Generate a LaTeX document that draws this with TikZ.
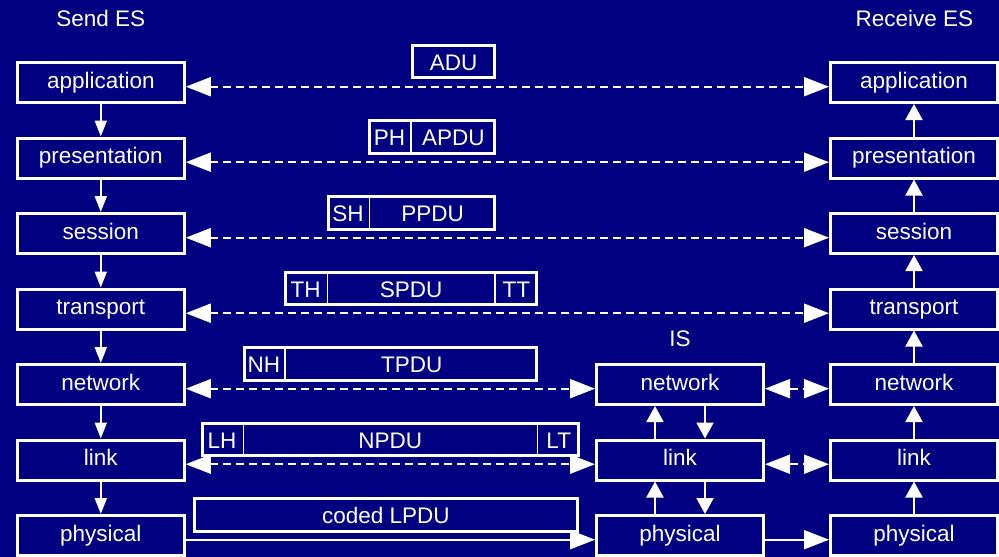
\documentclass[tikz,border=0pt]{standalone}
\usepackage{fontspec}
\setmainfont{Liberation Sans}
\usetikzlibrary{arrows.meta}
\definecolor{navybg}{RGB}{0,0,128}

\begin{document}
\begin{tikzpicture}[x=1pt,y=-1pt,
  every node/.style={text=white,font=\fontsize{22.5}{27}\selectfont},
  layer/.style={draw=white,line width=3pt,fill=navybg,minimum width=167pt,
    minimum height=40pt,inner sep=0pt,text height=16.1pt,text depth=4.7pt},
  peer/.style={white,line width=2pt,dash pattern=on 8pt off 5pt,
    {Triangle[length=25pt,width=19pt]}-{Triangle[length=25pt,width=19pt]}},
  wire/.style={white,line width=2pt,-{Triangle[length=25pt,width=19pt]}},
  sendarrow/.style={white,line width=2pt,-{Triangle[length=16pt,width=12pt]}},
  recvarrow/.style={white,line width=2pt,-{Triangle[length=16pt,width=17pt]}},
  pduframe/.style={draw=white,line width=3pt},
  divider/.style={white,line width=1.5pt},
  pdutext/.style={anchor=base,inner sep=0pt}
]
% background and page size
\fill[navybg] (0,0) rectangle (999,557);
\useasboundingbox (0,0) rectangle (999,557);

% column headings
\node[pdutext] (tSend) at (100.8,26.7) {Send ES};
\node[pdutext] (tRecv) at (914.5,26.7) {Receive ES};
\node[pdutext] (tIS)   at (680,346) {IS};

% sending end system
\node[layer] (sApp) at (100.8,82.5)  {application};
\node[layer] (sPre) at (100.8,158)   {presentation};
\node[layer] (sSes) at (100.8,233.5) {session};
\node[layer] (sTra) at (100.8,309)   {transport};
\node[layer] (sNet) at (100.8,384.5) {network};
\node[layer] (sLnk) at (100.8,460)   {link};
\node[layer] (sPhy) at (100.8,535.5) {physical};

% intermediate system
\node[layer] (iNet) at (680,384.5) {network};
\node[layer] (iLnk) at (680,460)   {link};
\node[layer] (iPhy) at (680,535.5) {physical};

% receiving end system
\node[layer] (rApp) at (914,82.5)  {application};
\node[layer] (rPre) at (914,158)   {presentation};
\node[layer] (rSes) at (914,233.5) {session};
\node[layer] (rTra) at (914,309)   {transport};
\node[layer] (rNet) at (914,384.5) {network};
\node[layer] (rLnk) at (914,460)   {link};
\node[layer] (rPhy) at (914,535.5) {physical};

% down the sending stack
\draw[sendarrow] (sApp) -- (sPre);
\draw[sendarrow] (sPre) -- (sSes);
\draw[sendarrow] (sSes) -- (sTra);
\draw[sendarrow] (sTra) -- (sNet);
\draw[sendarrow] (sNet) -- (sLnk);
\draw[sendarrow] (sLnk) -- (sPhy);

% up the receiving stack
\draw[recvarrow] (rPhy) -- (rLnk);
\draw[recvarrow] (rLnk) -- (rNet);
\draw[recvarrow] (rNet) -- (rTra);
\draw[recvarrow] (rTra) -- (rSes);
\draw[recvarrow] (rSes) -- (rPre);
\draw[recvarrow] (rPre) -- (rApp);

% relaying inside the intermediate system
\draw[recvarrow] ([xshift=-25pt]iLnk.north) -- ([xshift=-25pt]iNet.south);
\draw[recvarrow] ([xshift=25pt]iNet.south) -- ([xshift=25pt]iLnk.north);
\draw[recvarrow] ([xshift=-25pt]iPhy.north) -- ([xshift=-25pt]iLnk.south);
\draw[recvarrow] ([xshift=25pt]iLnk.south) -- ([xshift=25pt]iPhy.north);

% peer-to-peer protocols
\draw[peer] ([yshift=-4.2pt]sApp.east) -- ([yshift=-4.2pt]rApp.west);
\draw[peer] ([yshift=-4.2pt]sPre.east) -- ([yshift=-4.2pt]rPre.west);
\draw[peer] ([yshift=-4.2pt]sSes.east) -- ([yshift=-4.2pt]rSes.west);
\draw[peer] ([yshift=-4.2pt]sTra.east) -- ([yshift=-4.2pt]rTra.west);
\draw[peer] ([yshift=-4.2pt]sNet.east) -- ([yshift=-4.2pt]iNet.west);
\draw[peer] ([yshift=-4.2pt]iNet.east) -- ([yshift=-4.2pt]rNet.west);
\draw[peer] ([yshift=-4.2pt]sLnk.east) -- ([yshift=-4.2pt]iLnk.west);
\draw[peer] ([yshift=-4.2pt]iLnk.east) -- ([yshift=-4.2pt]rLnk.west);
\draw[wire] ([yshift=-4.2pt]sPhy.east) -- ([yshift=-4.2pt]iPhy.west);
\draw[wire] ([yshift=-4.2pt]iPhy.east) -- ([yshift=-4.2pt]rPhy.west);

% protocol data units
\draw[pduframe] (412.5,45.5) rectangle (494.5,77.8);
\node[pdutext] (adu) at (453.5,70.5) {ADU};

\draw[pduframe] (369.5,120.8) rectangle (494.5,153.5);
\draw[divider] (411,120.8) -- (411,153.5);
\node[pdutext] (ph)   at (389.6,145.8) {PH};
\node[pdutext] (apdu) at (453.3,145.8) {APDU};

\draw[pduframe] (328.2,196.5) rectangle (494.5,229.2);
\draw[divider] (369.3,196.5) -- (369.3,229.2);
\node[pdutext] (sh)   at (348,221.5) {SH};
\node[pdutext] (ppdu) at (432.7,221.5) {PPDU};

\draw[pduframe] (285.5,272.2) rectangle (536.2,304.2);
\draw[divider] (327.3,272.2) -- (327.3,304.2);
\draw[divider] (495,272.2) -- (495,304.2);
\node[pdutext] (th)   at (305.7,297) {TH};
\node[pdutext] (spdu) at (411.2,297) {SPDU};
\node[pdutext] (tt)   at (516.3,297) {TT};

\draw[pduframe] (244.2,347.5) rectangle (536.8,380.2);
\draw[divider] (285,347.5) -- (285,380.2);
\node[pdutext] (nh)   at (263.9,372.5) {NH};
\node[pdutext] (tpdu) at (411.7,372.5) {TPDU};

\draw[pduframe] (202.2,423.2) rectangle (578.5,455.8);
\draw[divider] (243.3,423.2) -- (243.3,455.8);
\draw[divider] (537.3,423.2) -- (537.3,455.8);
\node[pdutext] (lh)   at (222,448.2) {LH};
\node[pdutext] (npdu) at (390.3,448.2) {NPDU};
\node[pdutext] (lt)   at (558.7,448.2) {LT};

\draw[pduframe] (194.2,498.8) rectangle (577.5,531.2);
\node[pdutext] (lpdu) at (385.9,523.8) {coded LPDU};
\end{tikzpicture}
\end{document}
